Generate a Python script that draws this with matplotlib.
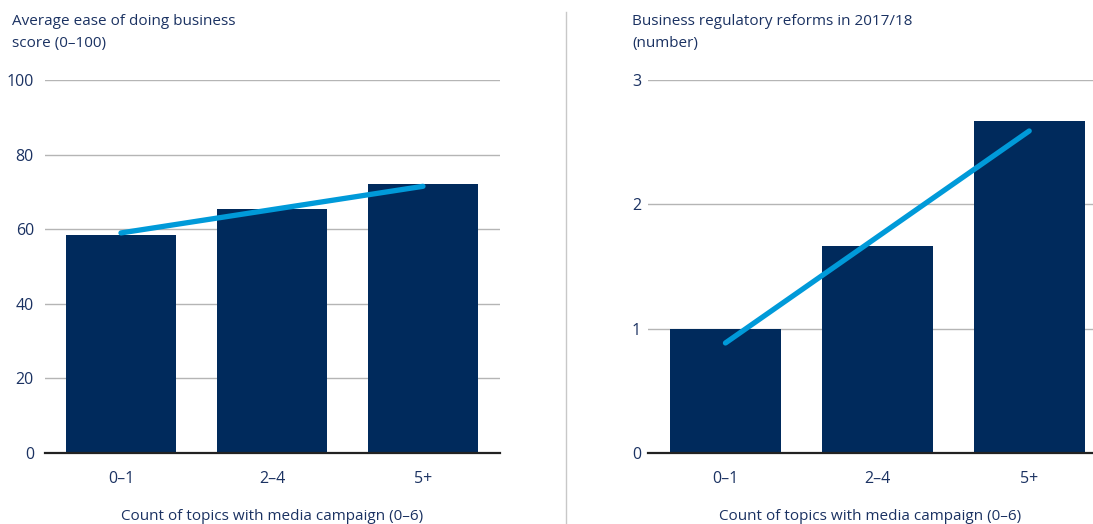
import matplotlib.pyplot as plt
from matplotlib.lines import Line2D

# data
categories = ['0–1', '2–4', '5+']
ease_score = [58.4, 65.4, 72.1]
ease_trend = [59.0, 71.5]
reforms = [1.0, 1.665, 2.67]
reforms_trend = [0.885, 2.59]

navy = '#002a5c'
blue = '#009ad9'
text_col = '#1b3262'
grid_col = '#b5b5b5'

plt.rcParams['font.family'] = ['Open Sans', 'DejaVu Sans']

fig = plt.figure(figsize=(10.93, 5.24), dpi=100)
ax1 = fig.add_axes([45/1093, 1-453/524, 455/1093, 373/524])
ax2 = fig.add_axes([648/1093, 1-453/524, 445/1093, 373/524])

def draw_panel(ax, values, trend, ymax, yticks, xlim, title, title_x, ypad):
    x = range(len(categories))
    ax.bar(x, values, width=0.73, color=navy, zorder=2)
    ax.plot([0, len(categories) - 1], trend, color=blue, lw=3.8,
            solid_capstyle='round', zorder=3)
    ax.set_ylim(0, ymax)
    ax.set_xlim(*xlim)
    ax.set_yticks(yticks)
    ax.set_xticks(list(x))
    ax.set_xticklabels(categories)
    ax.grid(axis='y', color=grid_col, lw=1, zorder=0)
    for s in ax.spines.values():
        s.set_visible(False)
    ax.axhline(0, color='#222222', lw=1.6, zorder=4, clip_on=False)
    ax.tick_params(length=0, colors=text_col, labelsize=11.5)
    ax.tick_params(axis='y', pad=ypad)
    ax.tick_params(axis='x', pad=13)
    ax.set_xlabel('Count of topics with media campaign (0–6)', color=text_col,
                  fontsize=11, labelpad=16)
    ax.text(title_x, 1.176, title, transform=ax.transAxes,
            color=text_col, fontsize=11, va='top', ha='left', linespacing=1.6)

draw_panel(ax1, ease_score, ease_trend, 100, [0, 20, 40, 60, 80, 100],
           (-0.503, 2.51), 'Average ease of doing business\nscore (0–100)', -0.0725, 8)
draw_panel(ax2, reforms, reforms_trend, 3, [0, 1, 2, 3],
           (-0.51, 2.42), 'Business regulatory reforms in 2017/18\n(number)', -0.036, 5)

# thin divider between the two panels
fig.add_artist(Line2D([566/1093, 566/1093], [0, 1-12/524], color='#c8c8c8', lw=1))

fig.savefig('out.png', dpi=100, facecolor='white')
